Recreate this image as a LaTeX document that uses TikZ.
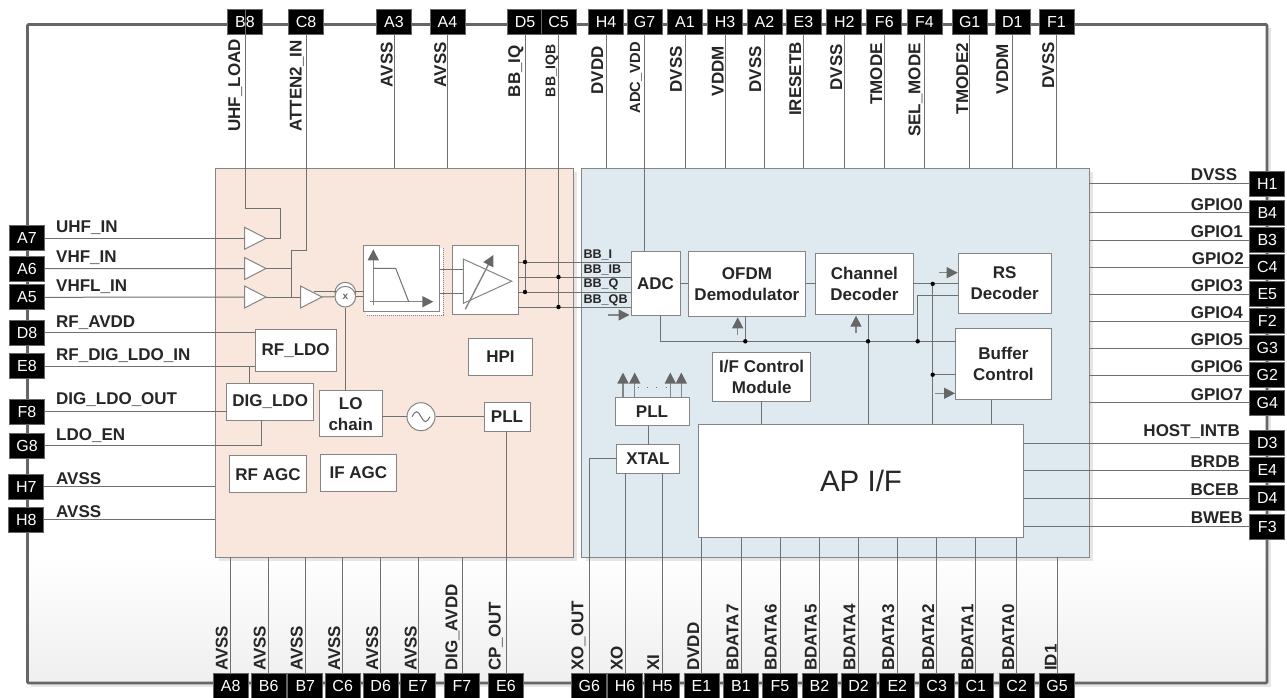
\documentclass[tikz,border=0pt]{standalone}
\usepackage{fontspec}
\setmainfont{Liberation Sans}
\usetikzlibrary{arrows.meta,shapes.geometric,shadows}
\definecolor{peachfill}{HTML}{F9E7DD}
\definecolor{bluefill}{HTML}{DFE9F0}
\definecolor{linegray}{HTML}{707070}
\definecolor{edgegray}{HTML}{858585}
\definecolor{framegray}{HTML}{666666}
\definecolor{shadowgray}{HTML}{E6E6E6}
\definecolor{floorgray}{HTML}{EFEFEF}
\definecolor{inkgray}{HTML}{262626}
\tikzset{
  wire/.style={draw=linegray,line width=1},
  pinbox/.style={draw=framegray,line width=.8,fill=black,text=white,inner sep=0,outer sep=0,
    minimum width=35,minimum height=25,font=\fontsize{16}{18}\selectfont},
  pinname/.style={inner sep=0,text=inkgray,font=\fontsize{17}{19}\selectfont\bfseries},
  toplabel/.style={pinname,rotate=90,anchor=base east},
  botlabel/.style={pinname,rotate=90,anchor=base west},
  leftlabel/.style={pinname,anchor=base west},
  rightlabel/.style={pinname,anchor=base east},
  bbname/.style={inner sep=0,anchor=base west,text=inkgray,font=\fontsize{12.6}{14}\selectfont\bfseries},
  panelbox/.style={draw=edgegray,line width=1,outer sep=0,inner sep=0,
    drop shadow={shadow xshift=4pt,shadow yshift=-4pt,fill=shadowgray,opacity=1}},
  blockbox/.style={draw=edgegray,line width=1,fill=white,outer sep=0,inner sep=0,align=center,
    text=inkgray,font=\fontsize{17}{21}\selectfont\bfseries},
  ampshape/.style={draw=edgegray,line width=1,fill=white,isosceles triangle,isosceles triangle stretches,
    shape border rotate=0,inner sep=0,outer sep=0,minimum width=22,minimum height=21.5,anchor=lower side},
  sigarrow/.style={draw=edgegray,line width=1.4,-{Triangle[length=11pt,width=11pt,color=framegray]}},
}
\begin{document}
\begin{tikzpicture}[x=1pt,y=-1pt]
  \useasboundingbox (0,0) rectangle (1287,697);
  % chip outline
  \fill[shadowgray] (31,28) rectangle (1271,687);
  \fill[white] (27.5,24.5) rectangle (1267,683);
  \shade[top color=white,bottom color=floorgray] (27.5,555) rectangle (1267,683);
  \draw[framegray,line width=2.6,rounded corners=1] (27.5,24.5) rectangle (1267,683);

  % the two halves
  \node[panelbox,fill=peachfill,minimum width=358,minimum height=389] (peach) at (394,362.5) {};
  \node[panelbox,fill=bluefill,minimum width=507.5,minimum height=389] (blue) at (835.25,362.5) {};

  % pins along the top
  \node[pinbox] (pinB8) at (245,21.7) {B8};
  \node[pinbox] (pinC8) at (306,21.7) {C8};
  \node[pinbox] (pinA3) at (394,21.7) {A3};
  \node[pinbox] (pinA4) at (447.5,21.7) {A4};
  \node[pinbox] (pinD5) at (525,21.7) {D5};
  \node[pinbox] (pinC5) at (558.5,21.7) {C5};
  \node[pinbox] (pinH4) at (606,21.7) {H4};
  \node[pinbox] (pinG7) at (644.5,21.7) {G7};
  \node[pinbox] (pinA1) at (685,21.7) {A1};
  \node[pinbox] (pinH3) at (725,21.7) {H3};
  \node[pinbox] (pinA2) at (764.5,21.7) {A2};
  \node[pinbox] (pinE3) at (803.4,21.7) {E3};
  \node[pinbox] (pinH2) at (844.3,21.7) {H2};
  \node[pinbox] (pinF6) at (884.3,21.7) {F6};
  \node[pinbox] (pinF4) at (924.5,21.7) {F4};
  \node[pinbox] (pinG1) at (969.7,21.7) {G1};
  \node[pinbox] (pinD1) at (1012.4,21.7) {D1};
  \node[pinbox] (pinF1) at (1056.5,21.7) {F1};

  % pins along the bottom
  \node[pinbox] (pinA8) at (230.7,686) {A8};
  \node[pinbox] (pinB6) at (268.7,686) {B6};
  \node[pinbox] (pinB7) at (305.3,686) {B7};
  \node[pinbox] (pinC6) at (342.7,686) {C6};
  \node[pinbox] (pinD6) at (380.7,686) {D6};
  \node[pinbox] (pinE7) at (418,686) {E7};
  \node[pinbox] (pinF7) at (462,686) {F7};
  \node[pinbox] (pinE6) at (506,686) {E6};
  \node[pinbox] (pinG6) at (589.3,686) {G6};
  \node[pinbox] (pinH6) at (625,686) {H6};
  \node[pinbox] (pinH5) at (662.3,686) {H5};
  \node[pinbox] (pinE1) at (701.5,686) {E1};
  \node[pinbox] (pinB1) at (741,686) {B1};
  \node[pinbox] (pinF5) at (780,686) {F5};
  \node[pinbox] (pinB2) at (819.5,686) {B2};
  \node[pinbox] (pinD2) at (858.5,686) {D2};
  \node[pinbox] (pinE2) at (897.3,686) {E2};
  \node[pinbox] (pinC3) at (936.7,686) {C3};
  \node[pinbox] (pinC1) at (975.8,686) {C1};
  \node[pinbox] (pinC2) at (1016.7,686) {C2};
  \node[pinbox] (pinG5) at (1057,686) {G5};

  % pins on the left
  \node[pinbox] (pinA7) at (27,238.3) {A7};
  \node[pinbox] (pinA6) at (27,268.7) {A6};
  \node[pinbox] (pinA5) at (27,297.3) {A5};
  \node[pinbox] (pinD8) at (27,332.7) {D8};
  \node[pinbox] (pinE8) at (27,366.3) {E8};
  \node[pinbox] (pinF8) at (27,411.9) {F8};
  \node[pinbox] (pinG8) at (27,445.5) {G8};
  \node[pinbox] (pinH7) at (26.3,486.5) {H7};
  \node[pinbox] (pinH8) at (26.3,519.5) {H8};

  % pins on the right
  \node[pinbox] (pinH1) at (1267.3,183.8) {H1};
  \node[pinbox] (pinB4) at (1267.3,212.6) {B4};
  \node[pinbox] (pinB3) at (1267.3,240) {B3};
  \node[pinbox] (pinC4) at (1267.3,267) {C4};
  \node[pinbox] (pinE5) at (1267.3,294) {E5};
  \node[pinbox] (pinF2) at (1267.3,321) {F2};
  \node[pinbox] (pinG3) at (1267.3,348) {G3};
  \node[pinbox] (pinG2) at (1267.3,375) {G2};
  \node[pinbox] (pinG4) at (1267.3,402.7) {G4};
  \node[pinbox] (pinD3) at (1267.3,443) {D3};
  \node[pinbox] (pinE4) at (1267.3,470) {E4};
  \node[pinbox] (pinD4) at (1267.3,498.3) {D4};
  \node[pinbox] (pinF3) at (1267.3,526.5) {F3};

  % pin names
  \node[toplabel] (nameB8) at (240,39) {UHF\_LOAD};
  \node[toplabel] (nameC8) at (301.7,40) {ATTEN2\_IN};
  \node[toplabel] (nameA3) at (392.6,42) {AVSS};
  \node[toplabel] (nameA4) at (446,42) {AVSS};
  \node[toplabel] (nameD5) at (520,45) {BB\_IQ};
  \node[toplabel,font=\fontsize{14}{16}\selectfont\bfseries] (nameC5) at (555.4,44) {BB\_IQB};
  \node[toplabel] (nameH4) at (603,46) {DVDD};
  \node[toplabel,font=\fontsize{14.7}{16}\selectfont\bfseries] (nameG7) at (640,42) {ADC\_VDD};
  \node[toplabel] (nameA1) at (681.8,46) {DVSS};
  \node[toplabel] (nameH3) at (723.5,46) {VDDM};
  \node[toplabel] (nameA2) at (761,46) {DVSS};
  \node[toplabel] (nameE3) at (801,42) {IRESETB};
  \node[toplabel] (nameH2) at (842,44) {DVSS};
  \node[toplabel] (nameF6) at (882,43) {TMODE};
  \node[toplabel] (nameF4) at (920.4,43) {SEL\_MODE};
  \node[toplabel] (nameG1) at (968,43) {TMODE2};
  \node[toplabel] (nameD1) at (1008,44) {VDDM};
  \node[toplabel] (nameF1) at (1054,42) {DVSS};

  \node[botlabel] (nameA8) at (227.7,671) {AVSS};
  \node[botlabel] (nameB6) at (265.7,671) {AVSS};
  \node[botlabel] (nameB7) at (302.7,671) {AVSS};
  \node[botlabel] (nameC6) at (340,671) {AVSS};
  \node[botlabel] (nameD6) at (378,671) {AVSS};
  \node[botlabel] (nameE7) at (416.7,671) {AVSS};
  \node[botlabel] (nameF7) at (457.3,671) {DIG\_AVDD};
  \node[botlabel] (nameE6) at (500.7,671) {CP\_OUT};
  \node[botlabel] (nameG6) at (583.3,671) {XO\_OUT};
  \node[botlabel] (nameH6) at (622.7,671) {XO};
  \node[botlabel] (nameH5) at (659,671) {XI};
  \node[botlabel] (nameE1) at (699,671) {DVDD};
  \node[botlabel] (nameB1) at (738.3,671) {BDATA7};
  \node[botlabel] (nameF5) at (776.7,671) {BDATA6};
  \node[botlabel] (nameB2) at (816.7,671) {BDATA5};
  \node[botlabel] (nameD2) at (855.3,671) {BDATA4};
  \node[botlabel] (nameE2) at (894,671) {BDATA3};
  \node[botlabel] (nameC3) at (934,671) {BDATA2};
  \node[botlabel] (nameC1) at (973.3,671) {BDATA1};
  \node[botlabel] (nameC2) at (1014,671) {BDATA0};
  \node[botlabel] (nameG5) at (1056.7,671) {ID1};

  \node[leftlabel] (nameA7) at (56,232.3) {UHF\_IN};
  \node[leftlabel] (nameA6) at (56,262) {VHF\_IN};
  \node[leftlabel] (nameA5) at (56,291) {VHFL\_IN};
  \node[leftlabel] (nameD8) at (56,327) {RF\_AVDD};
  \node[leftlabel] (nameE8) at (56,360) {RF\_DIG\_LDO\_IN};
  \node[leftlabel] (nameF8) at (56,404) {DIG\_LDO\_OUT};
  \node[leftlabel] (nameG8) at (56,440) {LDO\_EN};
  \node[leftlabel] (nameH7) at (56,484) {AVSS};
  \node[leftlabel] (nameH8) at (56,517) {AVSS};

  \node[rightlabel] (nameH1) at (1237.3,180.7) {DVSS};
  \node[rightlabel] (nameB4) at (1243,210) {GPIO0};
  \node[rightlabel] (nameB3) at (1243,237) {GPIO1};
  \node[rightlabel] (nameC4) at (1244,264) {GPIO2};
  \node[rightlabel] (nameE5) at (1243,291) {GPIO3};
  \node[rightlabel] (nameF2) at (1243,318) {GPIO4};
  \node[rightlabel] (nameG3) at (1243,345.3) {GPIO5};
  \node[rightlabel] (nameG2) at (1243,372.7) {GPIO6};
  \node[rightlabel] (nameG4) at (1243,400) {GPIO7};
  \node[rightlabel] (nameD3) at (1240,436.7) {HOST\_INTB};
  \node[rightlabel] (nameE4) at (1240,467.7) {BRDB};
  \node[rightlabel] (nameD4) at (1239,495.7) {BCEB};
  \node[rightlabel] (nameF3) at (1243,523.3) {BWEB};

  % RF side
  \node[ampshape] (ampa) at (244.5,238.3) {};
  \node[ampshape] (ampb) at (244.5,268.5) {};
  \node[ampshape] (ampc) at (244.5,297) {};
  \node[ampshape] (ampd) at (300.5,297) {};
  \node[blockbox,minimum width=80.7,minimum height=42] (rfldo) at (295.7,350.3) {RF\_LDO};
  \node[blockbox,minimum width=87,minimum height=36.7] (digldo) at (270.2,401.7) {DIG\_LDO};
  \node[blockbox,minimum width=62.7,minimum height=46] (lochain) at (350.7,413.7) {LO\\chain};
  \node[blockbox,minimum width=76.6,minimum height=37] (rfagc) at (268,474.2) {RF AGC};
  \node[blockbox,minimum width=76.7,minimum height=37] (ifagc) at (358.4,472.8) {IF AGC};
  \node[blockbox,minimum width=64.4,minimum height=37] (hpi) at (500.5,356.5) {HPI};
  \node[blockbox,minimum width=46,minimum height=29] (pllrf) at (507,416.5) {PLL};
  \node[blockbox,draw=none,minimum width=76.4,minimum height=66.4] (filterback) at (404.5,281.5) {};
  \draw[edgegray,densely dotted,line width=1] (443,248) -- (443,315) -- (367,315);
  \node[blockbox,minimum width=76.4,minimum height=66.4] (filter) at (401.5,278.5) {};
  \node[blockbox,minimum width=66,minimum height=69.2] (ampbox) at (485.3,279.9) {};
  \node[ampshape,minimum width=44.3,minimum height=48.4] (vga) at (463.3,281.2) {};
  \node[draw=edgegray,line width=1,fill=white,circle,inner sep=0,minimum size=20.6] (mixerback) at (345.3,292.6) {};
  \node[draw=edgegray,line width=1,fill=white,circle,inner sep=0,minimum size=20.6,font=\fontsize{10}{10}\selectfont\bfseries,text=framegray] (mixer) at (345.3,296.7) {x};
  \node[draw=edgegray,line width=1,fill=white,circle,inner sep=0,minimum size=28] (osc) at (421,416.7) {};
  \draw[linegray,line width=1] (osc.center) ++(-9,0) sin ++(4.5,-5) cos ++(4.5,5) sin ++(4.5,5) cos ++(4.5,-5);

  % filter and gain pictograms
  \draw[sigarrow] (373.3,305) -- (373.3,249.3);
  \draw[sigarrow] (370,301.7) -- (433.3,301.7);
  \draw[wire] (373.3,268.3) -- (395.7,268.3) -- (408.7,301.7);
  \draw[sigarrow] (465.3,309.3) -- (493.3,255);

  % digital side
  \node[blockbox,minimum width=49,minimum height=64.4] (adc) at (655.5,283.5) {ADC};
  \node[blockbox,minimum width=117.7,minimum height=65] (ofdm) at (746.9,283.8) {OFDM\\Demodulator};
  \node[blockbox,minimum width=97.3,minimum height=61.7] (chandec) at (864.4,283.9) {Channel\\Decoder};
  \node[blockbox,minimum width=92.7,minimum height=60.7] (rsdec) at (1004.7,283.4) {RS\\Decoder};
  \node[blockbox,minimum width=95.3,minimum height=71.7] (bufctl) at (1003.4,363.9) {Buffer\\Control};
  \node[blockbox,minimum width=98,minimum height=48.6] (ifctl) at (761.7,377) {I/F Control\\Module};
  \node[blockbox,minimum width=74,minimum height=28.2] (pllbb) at (652,411.6) {PLL};
  \node[blockbox,minimum width=62.6,minimum height=28.3] (xtal) at (648,458.9) {XTAL};
  \node[blockbox,minimum width=325.4,minimum height=113.4,font=\fontsize{29.5}{32}\selectfont] (apif) at (861,481) {AP I/F};

  \node[bbname] (bbnamei) at (583.3,258.3) {BB\_I};
  \node[bbname] (bbnameib) at (583.3,273.7) {BB\_IB};
  \node[bbname] (bbnameq) at (583.3,287.7) {BB\_Q};
  \node[bbname] (bbnameqb) at (583.3,303.3) {BB\_QB};

  % free ends and bends
  \coordinate (uhfbend) at (280,208.3);
  \coordinate (attbend) at (291,250);
  \coordinate (mixup) at (439.7,269.3);
  \coordinate (mixdown) at (439.7,293);
  \coordinate (bbi) at (518.3,262);
  \coordinate (bbib) at (518.3,277);
  \coordinate (bbq) at (518.3,292);
  \coordinate (bbqb) at (518.3,307);
  \coordinate (digtap) at (249.3,366);
  \coordinate (ldoen) at (261.7,420);
  \coordinate (buscorner) at (660.3,341.3);
  \coordinate (busa) at (745.3,341.3);
  \coordinate (busb) at (868,341.3);
  \coordinate (busc) at (917.7,341.3);
  \coordinate (rsin) at (958.3,295.3);
  \coordinate (tapa) at (932.7,283.9);
  \coordinate (tapb) at (932.7,374.7);
  \coordinate (bufout) at (991.7,399.7);

  % top wires
  \draw[wire] (pinB8.north) |- (uhfbend) |- (ampa.apex);
  \draw[wire] (pinC8.south) |- (attbend) |- (ampb.apex);
  \draw[wire] (attbend |- ampb.apex) -- (attbend |- ampc.apex);
  \draw[wire] (pinA3.south) -- (pinA3.south |- peach.north);
  \draw[wire] (pinA4.south) -- (pinA4.south |- peach.north);
  \draw[wire] (pinD5.south) -- (pinD5.south |- bbq);
  \draw[wire] (pinC5.south) -- (pinC5.south |- bbqb);
  \draw[wire] (pinG7.south) -- (pinG7.south |- adc.north);
  \draw[wire] (pinH4.south) -- (pinH4.south |- blue.north);
  \draw[wire] (pinA1.south) -- (pinA1.south |- blue.north);
  \draw[wire] (pinH3.south) -- (pinH3.south |- blue.north);
  \draw[wire] (pinA2.south) -- (pinA2.south |- blue.north);
  \draw[wire] (pinE3.south) -- (pinE3.south |- blue.north);
  \draw[wire] (pinH2.south) -- (pinH2.south |- blue.north);
  \draw[wire] (pinF6.south) -- (pinF6.south |- blue.north);
  \draw[wire] (pinF4.south) -- (pinF4.south |- blue.north);
  \draw[wire] (pinG1.south) -- (pinG1.south |- blue.north);
  \draw[wire] (pinD1.south) -- (pinD1.south |- blue.north);
  \draw[wire] (pinF1.south) -- (pinF1.south |- blue.north);

  % bottom wires
  \draw[wire] (pinA8.north) -- (pinA8.north |- peach.south);
  \draw[wire] (pinB6.north) -- (pinB6.north |- peach.south);
  \draw[wire] (pinB7.north) -- (pinB7.north |- peach.south);
  \draw[wire] (pinC6.north) -- (pinC6.north |- peach.south);
  \draw[wire] (pinD6.north) -- (pinD6.north |- peach.south);
  \draw[wire] (pinE7.north) -- (pinE7.north |- peach.south);
  \draw[wire] (pinF7.north) -- (pinF7.north |- peach.south);
  \draw[wire] (pinE6.north) -- (pinE6.north |- pllrf.south);
  \draw[wire] (pinG6.north) |- (xtal.west);
  \draw[wire] (pinH6.north) -- (pinH6.north |- xtal.south);
  \draw[wire] (pinH5.north) -- (pinH5.north |- xtal.south);
  \draw[wire] (pinE1.north) -- (pinE1.north |- apif.south);
  \draw[wire] (pinB1.north) -- (pinB1.north |- apif.south);
  \draw[wire] (pinF5.north) -- (pinF5.north |- apif.south);
  \draw[wire] (pinB2.north) -- (pinB2.north |- apif.south);
  \draw[wire] (pinD2.north) -- (pinD2.north |- apif.south);
  \draw[wire] (pinE2.north) -- (pinE2.north |- apif.south);
  \draw[wire] (pinC3.north) -- (pinC3.north |- apif.south);
  \draw[wire] (pinC1.north) -- (pinC1.north |- apif.south);
  \draw[wire] (pinC2.north) -- (pinC2.north |- apif.south);
  \draw[wire] (pinG5.north) -- (pinG5.north |- blue.south);

  % left wires
  \draw[wire] (pinA7.east) -- (ampa.lower side);
  \draw[wire] (pinA6.east) -- (ampb.lower side);
  \draw[wire] (pinA5.east) -- (ampc.lower side);
  \draw[wire] (pinD8.east) -- (pinD8.east -| rfldo.west);
  \draw[wire] (pinE8.east) -- (pinE8.east -| rfldo.west);
  \draw[wire] (digtap) -- (digtap |- digldo.north);
  \draw[wire] (pinF8.east) -- (pinF8.east -| digldo.west);
  \draw[wire] (pinG8.east) -| (ldoen);
  \draw[wire] (pinH7.east) -- (pinH7.east -| peach.west);
  \draw[wire] (pinH8.east) -- (pinH8.east -| peach.west);

  % right wires
  \draw[wire] (pinH1.west) -- (pinH1.west -| blue.east);
  \draw[wire] (pinB4.west) -- (pinB4.west -| blue.east);
  \draw[wire] (pinB3.west) -- (pinB3.west -| blue.east);
  \draw[wire] (pinC4.west) -- (pinC4.west -| blue.east);
  \draw[wire] (pinE5.west) -- (pinE5.west -| blue.east);
  \draw[wire] (pinF2.west) -- (pinF2.west -| blue.east);
  \draw[wire] (pinG3.west) -- (pinG3.west -| blue.east);
  \draw[wire] (pinG2.west) -- (pinG2.west -| blue.east);
  \draw[wire] (pinG4.west) -- (pinG4.west -| blue.east);
  \draw[wire] (pinD3.west) -- (pinD3.west -| apif.east);
  \draw[wire] (pinE4.west) -- (pinE4.west -| apif.east);
  \draw[wire] (pinD4.west) -- (pinD4.west -| apif.east);
  \draw[wire] (pinF3.west) -- (pinF3.west -| apif.east);

  % RF chain
  \draw[wire] (ampc.apex) -- (ampd.lower side);
  \draw[wire] (ampd.apex) -- (mixer.west);
  \draw[wire] (mixer.150) -- ++(-22,0);
  \draw[wire] (mixer.east) -- (mixer.east -| filter.west);
  \draw[wire] (mixer.30) -- (mixer.30 -| filter.west);
  \draw[wire] (mixup) -- (mixup -| vga.lower side);
  \draw[wire] (mixdown) -- (mixdown -| vga.lower side);
  \draw[wire] (mixer.south) -- (mixer.south |- lochain.north);
  \draw[wire] (osc.west -| lochain.east) -- (osc.west);
  \draw[wire] (osc.east) -- (osc.east -| pllrf.west);

  % baseband lines
  \draw[wire] (bbi) -- (bbi -| adc.west);
  \draw[wire] (bbib) -- (bbib -| adc.west);
  \draw[wire] (bbq) -- (bbq -| adc.west);
  \draw[wire] (bbqb) -- (bbqb -| adc.west);
  \fill (pinD5.south |- bbi) circle (2.2);
  \fill (pinD5.south |- bbq) circle (2.2);
  \fill (pinC5.south |- bbib) circle (2.2);
  \fill (pinC5.south |- bbqb) circle (2.2);

  % digital chain
  \draw[wire] (adc.east) -- (adc.east -| ofdm.west);
  \draw[wire] (ofdm.east) -- (ofdm.east -| chandec.west);
  \draw[wire] (chandec.east) -- (chandec.east -| rsdec.west);
  \draw[wire] (adc.south -| buscorner) -- (buscorner) -- (buscorner -| bufctl.west);
  \draw[wire] (busa) -- (busa |- ofdm.south);
  \draw[wire] (busb |- chandec.south) -- (busb |- apif.north);
  \draw[wire] (busc) |- (rsin);
  \draw[wire] (tapa) -- (tapa |- apif.north);
  \draw[wire] (tapb) -- (tapb -| bufctl.west);
  \draw[wire] (bufout) -- (bufout |- apif.north);
  \draw[wire] (ifctl.south) -- (ifctl.south |- apif.north);
  \draw[wire] (xtal.north) -- (xtal.north |- pllbb.south);
  \fill (busa) circle (2.2);
  \fill (busb) circle (2.2);
  \fill (busc) circle (2.2);
  \fill (tapa) circle (2.2);
  \fill (tapb) circle (2.2);

  % control arrows
  \draw[sigarrow] (607.7,315) -- (629.5,315);
  \draw[sigarrow] (737.7,335) -- (737.7,317.3);
  \draw[sigarrow] (856,333.3) -- (856,315.7);
  \draw[sigarrow] (939,272.7) -- (957.7,272.7);
  \draw[sigarrow] (935.3,393.3) -- (955,393.3);
  \draw[sigarrow] (pllbb.north -| 623,0) -- ++(0,-25);
  \draw[sigarrow] (pllbb.north -| 634.7,0) -- ++(0,-25);
  \draw[sigarrow] (pllbb.north -| 670.3,0) -- ++(0,-25);
  \draw[sigarrow] (pllbb.north -| 681.3,0) -- ++(0,-25);
  \draw[framegray,line width=.9,dash pattern=on .9pt off 8.4pt] (637.7,387.7) -- (667,387.7);
\end{tikzpicture}
\end{document}
